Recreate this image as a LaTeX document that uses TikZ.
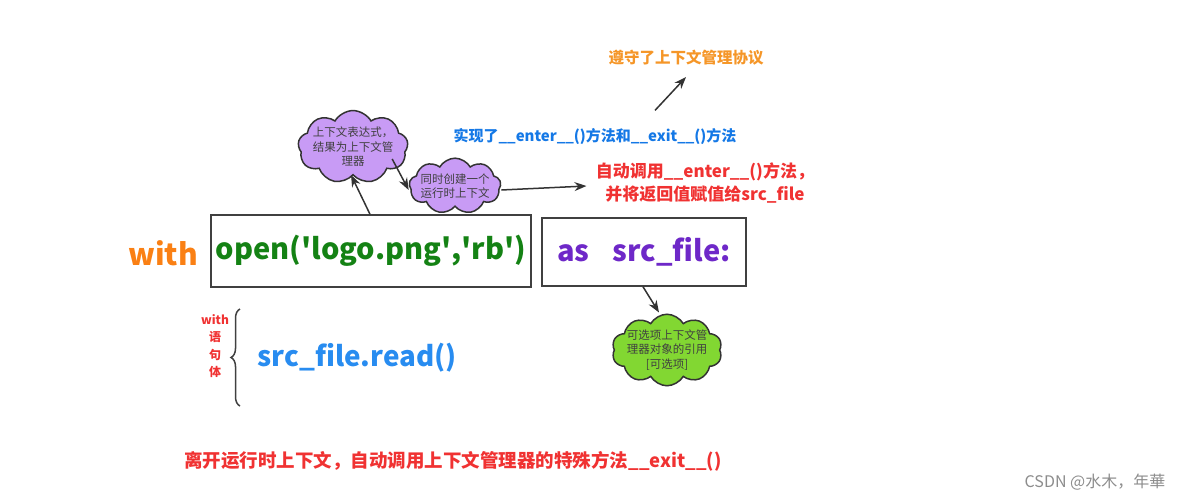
\documentclass[tikz,border=0pt]{standalone}
\usepackage{fontspec}
\setmainfont{Noto Sans CJK SC}
\usepackage{xcolor}
\usetikzlibrary{shapes.symbols, arrows.meta, positioning, calc, decorations.pathreplacing}

\definecolor{withorange}{RGB}{250,128,20}
\definecolor{opengreen}{RGB}{20,130,20}
\definecolor{aspurple}{RGB}{110,40,200}
\definecolor{readblue}{RGB}{40,140,240}
\definecolor{noteblue}{RGB}{20,120,230}
\definecolor{notered}{RGB}{240,50,50}
\definecolor{noteorange}{RGB}{245,150,40}
\definecolor{cloudpurple}{RGB}{200,155,245}
\definecolor{cloudgreen}{RGB}{130,215,50}

\begin{document}
\begin{tikzpicture}[
    x=1pt, y=-1pt,
    codebox/.style={rectangle, draw=black!75, line width=1.5pt, inner sep=0pt, font=\fontsize{29}{32}\selectfont\bfseries},
    bubble/.style={cloud, cloud puffs=9, cloud puff arc=120, aspect=1.9, draw=black!80, line width=1.5pt, inner sep=-3pt, align=center, font=\fontsize{11.5}{14.5}\selectfont, text=black!75},
    note/.style={align=center, font=\fontsize{17}{23}\selectfont\bfseries},
    arrow/.style={line width=1.5pt, -{Stealth[length=12pt,width=9pt]}, draw=black!80}
]
    \useasboundingbox (0,0) rectangle (1195,501);

    % Code line
    \node (with) [text=withorange, font=\fontsize{30}{32}\selectfont\bfseries] at (163,253) {with};
    \node (openbox) [codebox, minimum width=320, minimum height=72, text=opengreen] at (371,251) {open(\textquotesingle logo.png\textquotesingle,\textquotesingle rb\textquotesingle)};
    \node (asbox) [codebox, minimum width=204, minimum height=68, text=aspurple] at (644,252) {as\hspace{0.8em}src\_file:};

    % Bubbles
    \node (exprbubble) [bubble, fill=cloudpurple] at (353,147) {上下文表达式，\\结果为上下文管\\理器};
    \node (ctxbubble) [bubble, fill=cloudpurple, aspect=2.2] at (455,186) {同时创建一个\\运行时上下文};
    \node (refbubble) [bubble, cloud puffs=10, fill=cloudgreen] at (667,350) {可选项上下文管\\理器对象的引用\\{}[可选项]};

    % Notes
    \node (enternote) [note, text=notered] at (705,183) {自动调用\_\_enter\_\_()方法，\\并将返回值赋值给src\_file};
    \node (implnote) [note, text=noteblue, font=\fontsize{15}{18}\selectfont\bfseries] at (595,136) {实现了\_\_enter\_\_()方法和\_\_exit\_\_()方法};
    \node (protonote) [note, text=noteorange, font=\fontsize{15.5}{18}\selectfont\bfseries] at (686,58) {遵守了上下文管理协议};
    \node (exitnote) [note, text=notered, font=\fontsize{18.5}{22}\selectfont\bfseries] at (453,461) {离开运行时上下文，自动调用上下文管理器的特殊方法\_\_exit\_\_()};

    % Body
    \node (bodylabel) [text=notered, align=center, font=\fontsize{12}{17.5}\selectfont\bfseries] at (215,346) {with\\语\\句\\体};
    \node (readcall) [anchor=west, text=readblue, font=\fontsize{27.8}{30}\selectfont\bfseries] at (254,358) {src\_file.read()};
    \coordinate (bracetop) at (240,309);
    \coordinate (bracebot) at (240,406);
    \draw [line width=1.5pt, draw=black!75, decorate, decoration={brace, amplitude=9pt}] (bracebot) -- (bracetop);

    % Flows
    \draw [arrow] ([xshift=-1pt]openbox.north) -- ([xshift=-2pt,yshift=1pt]exprbubble.south);
    \draw [arrow] ([xshift=-16pt,yshift=-12pt]exprbubble.east) -- ([yshift=-4pt]ctxbubble.west);
    \draw [arrow] ([yshift=-4pt]ctxbubble.east) -- ([xshift=-6pt,yshift=-3pt]enternote.west);
    \draw [arrow] ([xshift=60pt,yshift=14pt]implnote.north) -- ([yshift=-8pt]protonote.south);
    \draw [arrow] ([xshift=-1pt]asbox.south) -- ([xshift=-8pt,yshift=1pt]refbubble.north);

    % Watermark
    \node (mark) [text=black!45, font=\fontsize{16}{18}\selectfont] at (1095,482) {CSDN @水木，年華};
\end{tikzpicture}
\end{document}
